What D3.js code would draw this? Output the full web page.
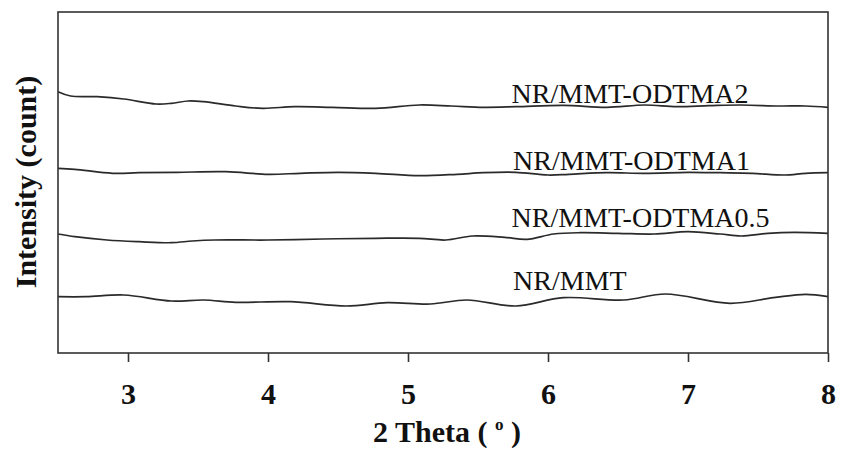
<!DOCTYPE html>
<html>
<head>
<meta charset="utf-8">
<script src="https://cdn.jsdelivr.net/npm/d3@7"></script>
<style>
  html, body { margin: 0; padding: 0; background: #fff; }
  svg { display: block; }
</style>
</head>
<body>
<svg id="chart" width="842" height="452"></svg>
<script>
// XRD patterns (low-angle region), stacked with vertical offsets
const thetaNRMMT = [2.50, 2.70, 2.97, 3.31, 3.54, 3.77, 4.16, 4.56, 4.85, 5.16, 5.42, 5.77, 6.11, 6.54, 6.84, 7.30, 7.61, 7.84, 8.00];
const countNRMMT = [56.3, 56.3, 58.0, 52.0, 53.0, 50.7, 51.3, 47.0, 50.3, 49.0, 53.0, 47.0, 55.3, 53.0, 59.0, 49.7, 55.3, 58.7, 56.3];

const thetaOD05 = [2.50, 2.62, 2.85, 3.08, 3.31, 3.46, 3.62, 4.00, 4.39, 4.77, 5.08, 5.27, 5.46, 5.69, 5.85, 6.04, 6.23, 6.50, 6.76, 7.00, 7.23, 7.38, 7.57, 7.76, 8.00];
const countOD05 = [119.0, 116.3, 113.0, 111.3, 110.3, 112.0, 113.0, 113.0, 114.0, 114.7, 114.7, 113.0, 117.0, 115.7, 113.7, 119.0, 120.3, 119.7, 119.0, 121.3, 119.0, 117.0, 119.7, 120.7, 119.7];

const thetaOD1 = [2.50, 2.62, 2.89, 3.08, 3.35, 3.70, 4.00, 4.23, 4.50, 4.77, 5.08, 5.35, 5.54, 5.77, 6.00, 6.15, 6.42, 6.69, 7.00, 7.23, 7.46, 7.69, 7.84, 8.00];
const countOD1 = [184.7, 183.7, 179.7, 180.3, 180.7, 181.3, 178.7, 179.7, 180.7, 179.7, 177.3, 178.7, 180.3, 180.7, 178.0, 178.7, 180.3, 179.7, 180.7, 180.3, 179.7, 178.0, 179.7, 180.3];

const thetaOD2 = [2.50, 2.59, 2.78, 2.97, 3.20, 3.31, 3.43, 3.54, 3.77, 3.96, 4.19, 4.46, 4.77, 5.08, 5.31, 5.54, 5.77, 6.11, 6.42, 6.69, 6.92, 7.15, 7.38, 7.65, 7.84, 8.00];
const countOD2 = [261.3, 257.0, 256.3, 254.0, 249.0, 249.7, 252.0, 251.3, 247.0, 244.7, 246.3, 245.7, 244.7, 248.0, 247.0, 245.7, 246.3, 247.7, 245.7, 248.0, 246.3, 247.3, 248.0, 247.0, 247.0, 245.7];

const sampleNames = ["NR/MMT", "NR/MMT-ODTMA0.5", "NR/MMT-ODTMA1", "NR/MMT-ODTMA2"];
// label anchor (2θ, intensity) for each sample name
const labelTheta = [5.75, 5.74, 5.75, 5.74];
const labelCount = [63, 126, 183, 250];

const xTicks = [3, 4, 5, 6, 7, 8];
const xDomain = [2.5, 8];
const yDomain = [0, 341];

const series = [
  { name: sampleNames[0], theta: thetaNRMMT, count: countNRMMT },
  { name: sampleNames[1], theta: thetaOD05, count: countOD05 },
  { name: sampleNames[2], theta: thetaOD1, count: countOD1 },
  { name: sampleNames[3], theta: thetaOD2, count: countOD2 }
];

const W = 842, H = 452;
const margin = { top: 12, right: 14, bottom: 99, left: 58 };
const iw = W - margin.left - margin.right;
const ih = H - margin.top - margin.bottom;
const serif = '"Liberation Serif"';

const svg = d3.select("#chart");
const g = svg.append("g").attr("transform", `translate(${margin.left},${margin.top})`);

const x = d3.scaleLinear().domain(xDomain).range([0, iw]);
const y = d3.scaleLinear().domain(yDomain).range([ih, 0]);

// patterns
const line = d3.line()
  .x(d => x(d[0]))
  .y(d => y(d[1]))
  .curve(d3.curveCatmullRom.alpha(0.5));

g.append("g").selectAll("path")
  .data(series)
  .join("path")
  .attr("d", s => line(d3.zip(s.theta, s.count)))
  .attr("fill", "none")
  .attr("stroke", "#2a2a2a")
  .attr("stroke-width", 1.7)
  .attr("stroke-linejoin", "round");

// sample names
g.append("g").selectAll("text")
  .data(sampleNames)
  .join("text")
  .attr("x", (d, i) => x(labelTheta[i]))
  .attr("y", (d, i) => y(labelCount[i]))
  .style("font-family", serif)
  .style("font-size", "28px")
  .attr("fill", "#111")
  .text(d => d);

// frame
g.append("rect")
  .attr("x", 0).attr("y", 0)
  .attr("width", iw).attr("height", ih)
  .attr("fill", "none")
  .attr("stroke", "#333")
  .attr("stroke-width", 1.6);

// bottom axis
const xAxis = g.append("g")
  .attr("transform", `translate(0,${ih})`)
  .call(d3.axisBottom(x).tickValues(xTicks).tickSize(9).tickSizeOuter(0).tickFormat(d3.format("d")));
xAxis.attr("font-family", null).attr("font-size", null);
xAxis.select(".domain").remove();
xAxis.selectAll(".tick line").attr("stroke", "#333").attr("stroke-width", 1.6);
xAxis.selectAll(".tick text")
  .attr("y", 51).attr("dy", 0)
  .style("font-family", serif)
  .style("font-weight", "bold")
  .style("font-size", "30px")
  .attr("fill", "#111");

// axis titles
const xt = svg.append("text")
  .attr("x", margin.left + iw / 2 + 4)
  .attr("y", 442)
  .attr("text-anchor", "middle")
  .style("font-family", serif)
  .style("font-weight", "bold")
  .style("font-size", "30px")
  .attr("fill", "#111");
xt.append("tspan").text("2 Theta ( ");
xt.append("tspan").style("font-size", "17px").attr("dy", -12).text("o");
xt.append("tspan").attr("dy", 12).text(" )");

svg.append("text")
  .attr("transform", `translate(36,${margin.top + 170}) rotate(-90)`)
  .attr("text-anchor", "middle")
  .style("font-family", serif)
  .style("font-weight", "bold")
  .style("font-size", "30px")
  .attr("fill", "#111")
  .text("Intensity (count)");
</script>
</body>
</html>
